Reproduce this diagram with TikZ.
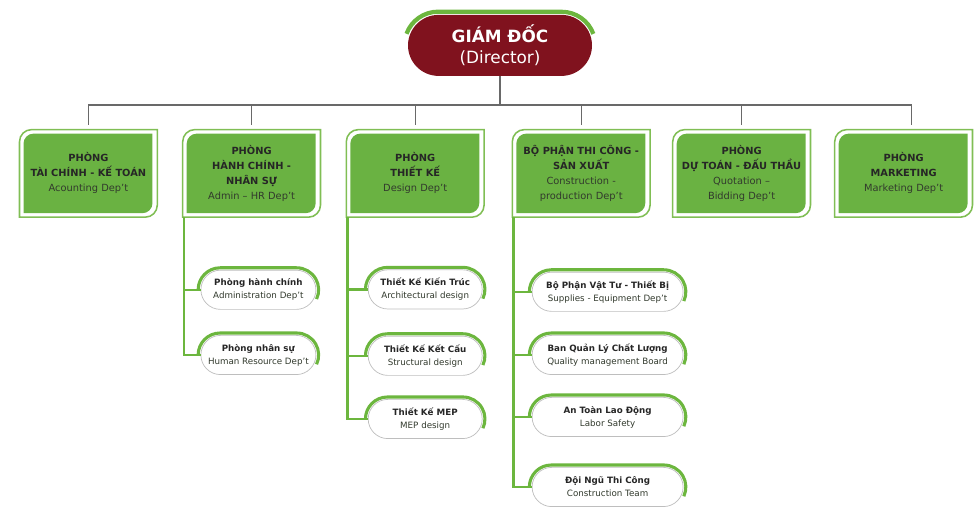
\documentclass[tikz,border=0pt]{standalone}
\usepackage{fontspec}
\setmainfont{DejaVu Sans}
\usetikzlibrary{shapes.misc}

\definecolor{dirred}{RGB}{128,18,30}
\definecolor{deptgreen}{RGB}{106,178,66}
\definecolor{framegreen}{RGB}{128,190,84}
\definecolor{linegreen}{RGB}{108,182,62}
\definecolor{linegray}{RGB}{105,105,105}
\definecolor{pillgray}{RGB}{190,190,190}
\definecolor{subtext}{RGB}{50,58,45}

\pgfdeclarelayer{bg}
\pgfsetlayers{bg,main}

\begin{document}
\begin{tikzpicture}[
    dirnode/.style={rounded rectangle, fill=dirred, text=white, minimum width=4.6cm, minimum height=1.525cm, inner sep=0pt, align=center, font=\fontsize{12}{14.5}\selectfont},
    deptbox/.style={rectangle, minimum width=3.43cm, minimum height=2.175cm, inner sep=0pt, align=center, text=black!85, font=\fontsize{7}{10.7}\selectfont},
    subpill/.style={rounded rectangle, draw=pillgray, line width=0.5pt, fill=white, minimum height=0.98cm, inner sep=0pt, align=center, text=black!85, font=\fontsize{6.2}{9.2}\selectfont},
    busline/.style={draw=linegray, line width=1pt},
    branchline/.style={draw=linegreen, line width=1.6pt},
    toparc/.style={draw=linegreen, line width=2.2pt}
]
\useasboundingbox (0,0) rectangle (24.35,12.675);

\node[dirnode] (dir) at (12.5,11.54) {\textbf{GIÁM ĐỐC}\\(Director)};
\coordinate (bus) at (12.5,10.05);

\node[deptbox] (acct) at (2.21,8.34) {\textbf{PHÒNG}\\\textbf{TÀI CHÍNH - KẾ TOÁN}\\\textcolor{subtext}{Acounting Dep't}};
\node[deptbox] (admin) at (6.29,8.34) {\textbf{PHÒNG}\\\textbf{HÀNH CHÍNH -}\\\textbf{NHÂN SỰ}\\\textcolor{subtext}{Admin – HR Dep't}};
\node[deptbox] (design) at (10.38,8.34) {\textbf{PHÒNG}\\\textbf{THIẾT KẾ}\\\textcolor{subtext}{Design Dep't}};
\node[deptbox] (constr) at (14.53,8.34) {\textbf{BỘ PHẬN THI CÔNG -}\\\textbf{SẢN XUẤT}\\\textcolor{subtext}{Construction -}\\\textcolor{subtext}{production Dep't}};
\node[deptbox] (quote) at (18.54,8.34) {\textbf{PHÒNG}\\\textbf{DỰ TOÁN - ĐẤU THẦU}\\\textcolor{subtext}{Quotation –}\\\textcolor{subtext}{Bidding Dep't}};
\node[deptbox] (mkt) at (22.59,8.34) {\textbf{PHÒNG}\\\textbf{MARKETING}\\\textcolor{subtext}{Marketing Dep't}};

\node[subpill, minimum width=2.875cm] (office) at (6.46,5.43) {\textbf{Phòng hành chính}\\\textcolor{subtext}{Administration Dep't}};
\node[subpill, minimum width=2.875cm] (hr) at (6.46,3.8) {\textbf{Phòng nhân sự}\\\textcolor{subtext}{Human Resource Dep't}};

\node[subpill, minimum width=2.85cm] (arch) at (10.63,5.44) {\textbf{Thiết Kế Kiến Trúc}\\\textcolor{subtext}{Architectural design}};
\node[subpill, minimum width=2.85cm] (struct) at (10.63,3.78) {\textbf{Thiết Kế Kết Cấu}\\\textcolor{subtext}{Structural design}};
\node[subpill, minimum width=2.85cm] (mep) at (10.63,2.2) {\textbf{Thiết Kế MEP}\\\textcolor{subtext}{MEP design}};

\node[subpill, minimum width=3.775cm] (supply) at (15.19,5.38) {\textbf{Bộ Phận Vật Tư - Thiết Bị}\\\textcolor{subtext}{Supplies - Equipment Dep't}};
\node[subpill, minimum width=3.775cm] (quality) at (15.19,3.8) {\textbf{Ban Quản Lý Chất Lượng}\\\textcolor{subtext}{Quality management Board}};
\node[subpill, minimum width=3.775cm] (safety) at (15.19,2.25) {\textbf{An Toàn Lao Động}\\\textcolor{subtext}{Labor Safety}};
\node[subpill, minimum width=3.775cm] (team) at (15.19,0.5) {\textbf{Đội Ngũ Thi Công}\\\textcolor{subtext}{Construction Team}};

\begin{pgfonlayer}{bg}
\foreach \b in {acct,admin,design,constr,quote,mkt} {
    \draw[framegreen, line width=1.1pt] (\b.south west) -- ([yshift=-0.3cm]\b.north west) arc[start angle=180, end angle=90, radius=0.3cm] -- (\b.north east) -- ([yshift=0.3cm]\b.south east) arc[start angle=0, end angle=-90, radius=0.3cm] -- cycle;
    \fill[deptgreen] ([shift={(0.1,0.1)}]\b.south west) -- ([shift={(0.1,-0.35)}]\b.north west) arc[start angle=180, end angle=90, radius=0.25cm] -- ([shift={(-0.12,-0.1)}]\b.north east) -- ([shift={(-0.12,0.35)}]\b.south east) arc[start angle=0, end angle=-90, radius=0.25cm] -- cycle;
}
\end{pgfonlayer}

\draw[toparc, line width=3pt] ([shift={(-0.03,0.29)}]dir.west) arc[start angle=160, end angle=90, radius=0.84cm] -- ([shift={(-0.7625,0.84)}]dir.east) arc[start angle=90, end angle=20, radius=0.84cm];

\foreach \p in {office,hr,arch,struct,mep,supply,quality,safety,team} {
    \draw[toparc] ([xshift=-0.06cm]\p.west) arc[start angle=180, end angle=90, radius=0.55cm] -- ([shift={(-0.49,0.55)}]\p.east) arc[start angle=90, end angle=-25, radius=0.55cm];
}

\draw[busline] (dir.south) -- (bus);
\draw[busline, shorten >=0.12cm] (bus) -| (acct.north);
\draw[busline, shorten >=0.12cm] (bus) -| (admin.north);
\draw[busline, shorten >=0.12cm] (bus) -| (design.north);
\draw[busline, shorten >=0.12cm] (bus) -| (constr.north);
\draw[busline, shorten >=0.12cm] (bus) -| (quote.north);
\draw[busline, shorten >=0.12cm] (bus) -| ([xshift=0.2cm]mkt.north);

\draw[branchline] ([xshift=0.03cm]admin.south west) |- (office.west);
\draw[branchline] ([xshift=0.03cm]admin.south west) |- (hr.west);
\draw[branchline] ([xshift=0.03cm]design.south west) |- (arch.west);
\draw[branchline] ([xshift=0.03cm]design.south west) |- (struct.west);
\draw[branchline] ([xshift=0.03cm]design.south west) |- (mep.west);
\draw[branchline] ([xshift=0.03cm]constr.south west) |- (supply.west);
\draw[branchline] ([xshift=0.03cm]constr.south west) |- (quality.west);
\draw[branchline] ([xshift=0.03cm]constr.south west) |- (safety.west);
\draw[branchline] ([xshift=0.03cm]constr.south west) |- (team.west);
\end{tikzpicture}
\end{document}
